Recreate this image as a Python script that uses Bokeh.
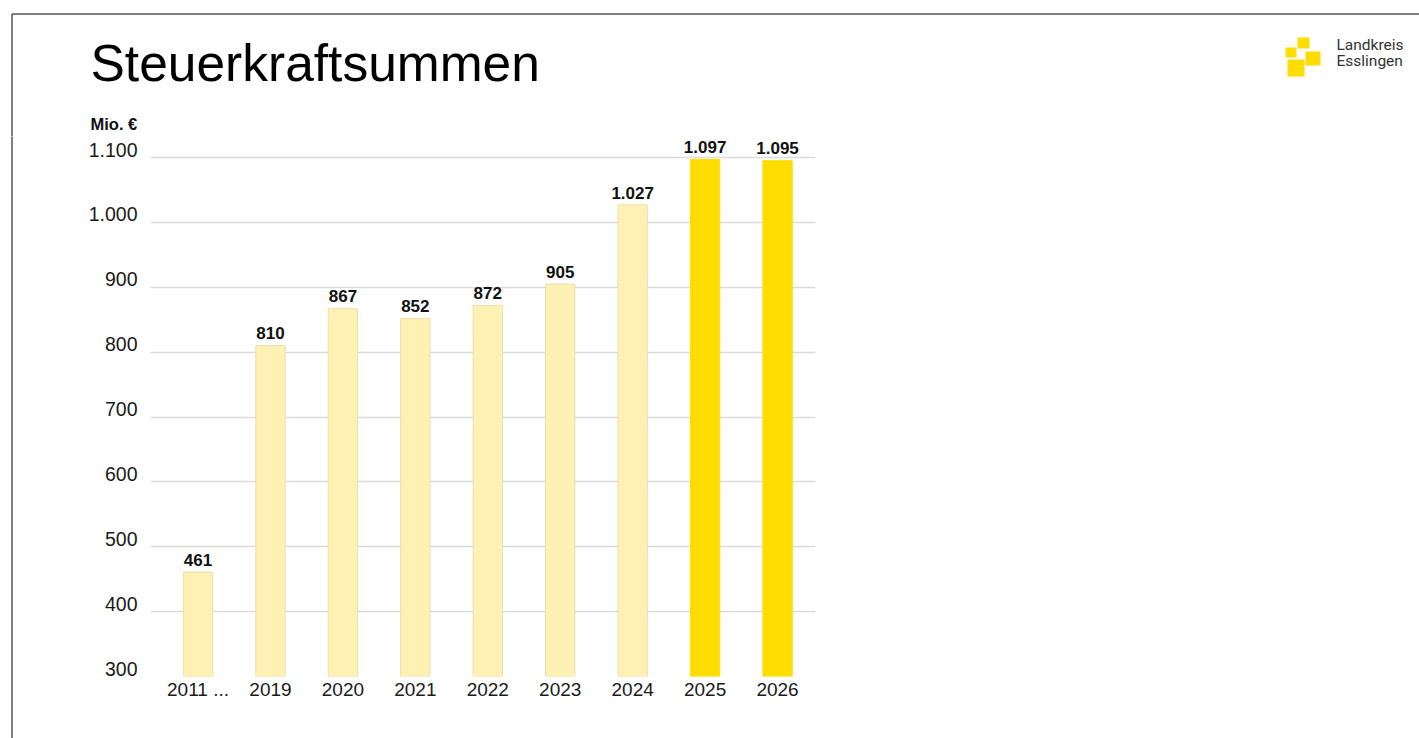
from bokeh.plotting import figure
from bokeh.layouts import column, row
from bokeh.models import Range1d, LinearAxis, FixedTicker, Grid, ColumnDataSource
from bokeh.core.properties import value
from bokeh.embed import file_html
from bokeh.resources import INLINE

# ---------------- data ----------------
categories = ["2011 ...", "2019", "2020", "2021", "2022", "2023", "2024", "2025", "2026"]
values = [461, 810, 867, 852, 872, 905, 1027, 1097, 1095]
y_ticks = [300, 400, 500, 600, 700, 800, 900, 1000, 1100]
y_tick_labels = ["300", "400", "500", "600", "700", "800", "900", "1.000", "1.100"]
title_text = "Steuerkraftsummen"
unit_text = "Mio. €"
logo_lines = ["Landkreis", "Esslingen"]
highlight_from_year = 2025


def de_fmt(v):
    return f"{v:,}".replace(",", ".")


FONT = "Liberation Sans"
LIGHT = "#FFF1B3"
BRIGHT = "#FFDD00"
PAGE_W, PAGE_H = 1419, 738
HEAD_H = 136          # header strip height
STRIP_W = 14          # left border strip width
BASE_FIX = 0.37       # svg text baseline correction (in em)


def bare(fig):
    fig.outline_line_color = None
    fig.background_fill_color = "white"
    fig.border_fill_color = "white"
    fig.min_border = 0
    fig.min_border_left = 0
    fig.min_border_right = 0
    fig.min_border_top = 0
    fig.min_border_bottom = 0
    fig.xgrid.visible = False
    fig.ygrid.visible = False
    fig.frame_align = False
    return fig


def by(y, size):
    return y - BASE_FIX * size


# ---------------- header (title, unit, logo, border) ----------------
head = bare(figure(width=PAGE_W, height=HEAD_H, title=None,
                   x_range=Range1d(0, PAGE_W), y_range=Range1d(HEAD_H, 0),
                   x_axis_location=None, y_axis_location=None,
                   toolbar_location=None, output_backend="svg"))
head.text(x=[90], y=[by(82, 51.5)], text=[title_text], text_font=value(FONT),
          text_font_size="51.5px", text_color="#000000", text_baseline="alphabetic",
          text_align="left")
head.text(x=[90], y=[by(130, 16.5)], text=[unit_text], text_font=value(FONT),
          text_font_size="16.5px", text_font_style="bold", text_color="#111111",
          text_baseline="alphabetic", text_align="left")
head.text(x=[1336, 1336], y=[by(50, 15.5), by(66, 15.5)], text=logo_lines,
          text_font=value("Roboto"), text_font_size="15.5px", text_color="#333333",
          text_baseline="alphabetic", text_align="left")
head.quad(left=[1297, 1285, 1305, 1287], right=[1309, 1296, 1320, 1304],
          top=[37, 47, 51, 59], bottom=[48, 57, 65, 76],
          fill_color=BRIGHT, line_color=None)
head.segment(x0=[11.5, 11.5], y0=[13.5, 13.5], x1=[PAGE_W + 5, 11.5], y1=[13.5, HEAD_H + 5],
             line_color="#000000", line_width=1)

# ---------------- left border strip ----------------
BODY_H = PAGE_H - HEAD_H
strip = bare(figure(width=STRIP_W, height=BODY_H, title=None,
                    x_range=Range1d(0, STRIP_W), y_range=Range1d(BODY_H, 0),
                    x_axis_location=None, y_axis_location=None,
                    toolbar_location=None, output_backend="svg"))
strip.segment(x0=[11.5], y0=[-5], x1=[11.5], y1=[BODY_H + 5], line_color="#000000", line_width=1)

# ---------------- main chart ----------------
BODY_W = PAGE_W - STRIP_W
F_LEFT, F_RIGHT, F_BOTTOM = 150, 815, 676      # frame edges in page px
PX = 519 / 800                                  # px per Mio. €
Y0 = 300
Y1 = Y0 + (F_BOTTOM - HEAD_H) / PX
LABEL_SIZE = 17

xs = list(range(len(categories)))
is_hi = [int(c[:4]) >= highlight_from_year for c in categories]
src = ColumnDataSource(dict(
    x=xs, top=values,
    label_y=[v + (6 + BASE_FIX * LABEL_SIZE) / PX for v in values],
    color=[BRIGHT if h else LIGHT for h in is_hi],
    line=[BRIGHT if h else "#EADFAE" for h in is_hi],
    label=[de_fmt(v) for v in values]))

p = figure(width=BODY_W, height=BODY_H, title=None,
           x_range=Range1d(-0.656, 8.524), y_range=Range1d(Y0, Y1),
           min_border_left=F_LEFT - STRIP_W, min_border_right=PAGE_W - F_RIGHT,
           min_border_top=0, min_border_bottom=PAGE_H - F_BOTTOM,
           toolbar_location=None, output_backend="svg", y_axis_location=None)
p.outline_line_color = None
p.background_fill_color = "white"
p.border_fill_color = "white"
p.xgrid.visible = False
p.frame_align = False

p.add_layout(Grid(dimension=1, ticker=FixedTicker(ticks=y_ticks),
                  grid_line_color="#DADADA", grid_line_width=1.5))

shift = 8 / PX
p.extra_y_ranges = {"lab": Range1d(Y0 - shift, Y1 - shift)}
yax = LinearAxis(y_range_name="lab", ticker=FixedTicker(ticks=y_ticks),
                 major_label_overrides={t: l for t, l in zip(y_ticks, y_tick_labels)})
yax.axis_line_color = None
yax.major_tick_line_color = None
yax.minor_tick_line_color = None
yax.major_tick_out = 0
yax.major_tick_in = 0
yax.major_label_standoff = 13
yax.major_label_text_font = FONT
yax.major_label_text_font_size = "19.5px"
yax.major_label_text_color = "#1a1a1a"
p.add_layout(yax, "left")

xax = p.xaxis[0]
xax.ticker = FixedTicker(ticks=xs)
xax.major_label_overrides = {i: c for i, c in zip(xs, categories)}
xax.axis_line_color = None
xax.major_tick_line_color = None
xax.minor_tick_line_color = None
xax.major_tick_out = 0
xax.major_tick_in = 0
xax.major_label_standoff = 2
xax.major_label_text_font = FONT
xax.major_label_text_font_size = "19px"
xax.major_label_text_color = "#1a1a1a"

p.vbar(x="x", top="top", bottom=Y0, width=0.405, fill_color="color",
       line_color="line", line_width=1, source=src)
p.text(x="x", y="label_y", text="label", source=src, text_align="center",
       text_baseline="alphabetic", text_font=value(FONT),
       text_font_size=f"{LABEL_SIZE}px", text_font_style="bold", text_color="#111111")

layout = column(head, row(strip, p))
open("out.html", "w").write(file_html(layout, INLINE))
